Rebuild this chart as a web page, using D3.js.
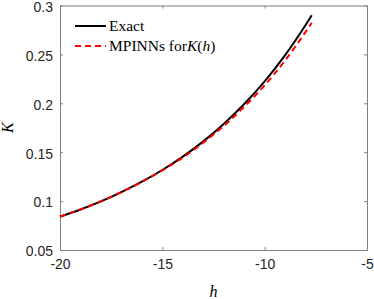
<!DOCTYPE html>
<html lang="en">
<head>
  <meta charset="UTF-8">
  <title>K(h)</title>
  <style>
    body { margin: 0; background: #fff; }
    text { font-family: "Liberation Sans", Arial, sans-serif; }
  </style>
</head>
<body>
    <script src="https://cdn.jsdelivr.net/npm/d3@7"></script>
    <script>
      const width = 374
      const height = 299

      // values
      const hVals = [-20, -19, -18, -17, -16, -15, -14, -13, -12, -11, -10, -9, -8, -7.7]
      const exactK = [0.0840, 0.0914, 0.0997, 0.1092, 0.1198, 0.1318, 0.1455, 0.1611, 0.1789, 0.1993, 0.2225, 0.2493, 0.2801, 0.2900]
      const mpinnK = [0.0842, 0.0915, 0.0998, 0.1092, 0.1197, 0.1315, 0.1446, 0.1598, 0.1768, 0.1965, 0.2184, 0.2439, 0.2730, 0.2824]
      const xTicks = [-20, -15, -10, -5]
      const yTicks = [0.05, 0.1, 0.15, 0.2, 0.25, 0.3]

      const padL = 60, padR = 367, padT = 5.5, padB = 250

      const svg = d3.select("body")
        .append("svg")
        .attr("width", width)
        .attr("height", height)

      const x = d3.scaleLinear().domain([-20, -5]).range([padL, padR])
      const y = d3.scaleLinear().domain([0.05, 0.3]).range([padB, padT])

      const axisColor = "#808080"

      // axes with inward ticks (box on)
      const gx = svg.append("g").attr("transform", "translate(0," + padB + ")")
        .call(d3.axisBottom(x).tickValues(xTicks).tickSizeInner(-3).tickSizeOuter(0).tickPadding(9).tickFormat(d => String(d)))
      const gxTop = svg.append("g").attr("transform", "translate(0," + padT + ")")
        .call(d3.axisTop(x).tickValues(xTicks).tickSizeInner(-3).tickSizeOuter(0).tickFormat(""))
      const gy = svg.append("g").attr("transform", "translate(" + padL + ",0)")
        .call(d3.axisLeft(y).tickValues(yTicks).tickSizeInner(-3).tickSizeOuter(0).tickPadding(7).tickFormat(d => String(+d.toFixed(2))))
      const gyRight = svg.append("g").attr("transform", "translate(" + padR + ",0)")
        .call(d3.axisRight(y).tickValues(yTicks).tickSizeInner(-3).tickSizeOuter(0).tickFormat(""))

      ;[gx, gxTop, gy, gyRight].forEach(g => {
        g.select(".domain").attr("stroke", axisColor)
        g.selectAll(".tick line").attr("stroke", axisColor)
        g.selectAll(".tick text").attr("fill", "#262626").style("font-size", "14px")
          .style("font-family", "'Liberation Sans', Arial, sans-serif")
      })
      gy.selectAll(".tick text").attr("dy", "0.42em")

      // axis labels
      svg.append("text")
        .attr("x", x(-12.5)).attr("y", 297)
        .attr("text-anchor", "middle")
        .style("font-family", "'Liberation Serif', serif")
        .style("font-style", "italic").style("font-size", "16px")
        .text("h")
      svg.append("text")
        .attr("transform", "translate(13," + y(0.175) + ") rotate(-90)")
        .attr("text-anchor", "middle")
        .style("font-family", "'Liberation Serif', serif")
        .style("font-style", "italic").style("font-size", "16px")
        .text("K")

      const line = d3.line()
        .x(d => x(d[0]))
        .y(d => y(d[1]))
        .curve(d3.curveMonotoneX)

      svg.append("path")
        .datum(hVals.map((h, i) => [h, exactK[i]]))
        .attr("fill", "none").attr("stroke", "#000").attr("stroke-width", 2)
        .attr("d", line)

      svg.append("path")
        .datum(hVals.map((h, i) => [h, mpinnK[i]]))
        .attr("fill", "none").attr("stroke", "#ff0000").attr("stroke-width", 2)
        .attr("stroke-dasharray", "6,4")
        .attr("d", line)

      // legend (no box)
      const legend = svg.append("g")
      legend.append("line").attr("x1", 75).attr("x2", 106).attr("y1", 26).attr("y2", 26)
        .attr("stroke", "#000").attr("stroke-width", 2)
      legend.append("line").attr("x1", 75).attr("x2", 106).attr("y1", 46).attr("y2", 46)
        .attr("stroke", "#ff0000").attr("stroke-width", 2).attr("stroke-dasharray", "6,4")
      legend.append("text").attr("x", 109).attr("y", 31)
        .style("font-family", "'Liberation Serif', serif").style("font-size", "15.5px")
        .text("Exact")
      const t2 = legend.append("text").attr("x", 109).attr("y", 51)
        .style("font-family", "'Liberation Serif', serif").style("font-size", "15.5px")
      t2.append("tspan").text("MPINNs for")
      t2.append("tspan").style("font-style", "italic").text("K")
      t2.append("tspan").text("(")
      t2.append("tspan").style("font-style", "italic").text("h")
      t2.append("tspan").text(")")
    </script>
</body>
</html>
